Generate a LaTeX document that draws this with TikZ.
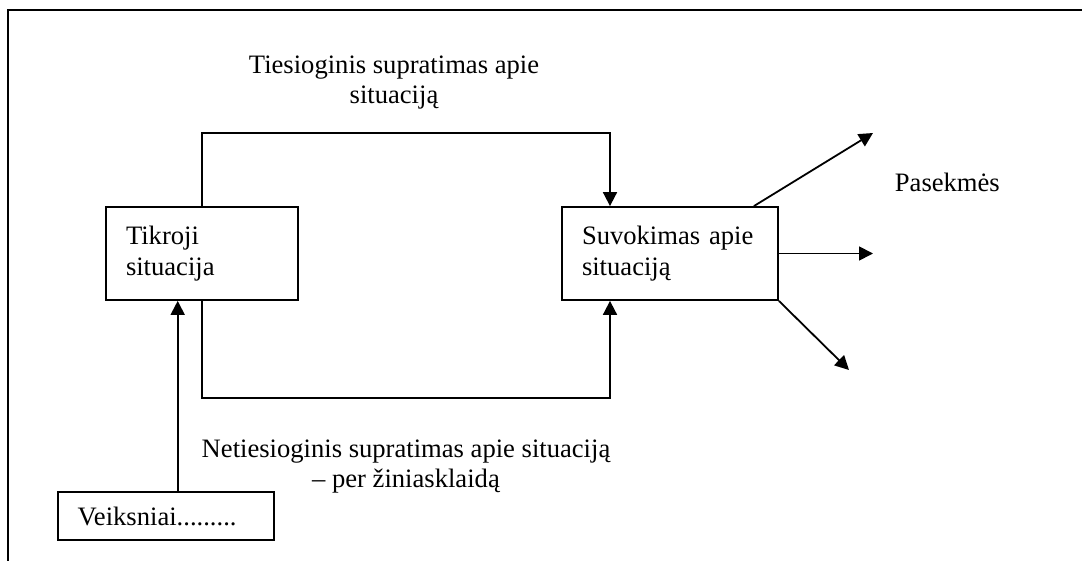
\documentclass[tikz,border=0pt]{standalone}
\usepackage{fontspec}
\setmainfont{Liberation Serif}
\usetikzlibrary{arrows.meta,positioning}

\tikzset{every picture/.style={line width=0.9pt}}
\tikzset{
  sitbox/.style={draw, align=left, inner xsep=10pt, inner ysep=0pt, font=\fontsize{13.3}{15.5}\selectfont},
  lbl/.style={inner sep=0pt, align=center, font=\fontsize{13.3}{15}\selectfont},
  arr/.style={-{Triangle[length=7pt,width=7pt]}}
}

\begin{document}
\begin{tikzpicture}[x=0.5pt,y=0.5pt,yscale=-1,xscale=1]
	\useasboundingbox (0,0) rectangle (1082,561);
	
	%Frame
	\draw [line width=1.1pt] (8,561) -- (8,10) -- (1082,10) ;
	
	%Boxes
	\node (tikroji) [sitbox, text width=76pt, minimum height=46.5pt] at (202,253.5) {Tikroji\\situacija};
	\node (suvokimas) [sitbox, text width=88pt, minimum height=46.5pt] at (670,253.5) {Suvokimas apie\\situacij\k{a}};
	\node (veiksniai) [sitbox, text width=88.3pt, minimum height=24pt] at (166,516) {Veiksniai.........};
	
	%Connectors
	\draw [arr] (tikroji.north) -- ++(0,-73) -| ([xshift=-30pt]suvokimas.north) ;
	\draw [arr] (tikroji.south) -- ++(0,97) -| ([xshift=-30pt]suvokimas.south) ;
	\draw [arr] ([xshift=5.85pt]veiksniai.north) -- ([xshift=-12.15pt]tikroji.south) ;
	
	%Consequences
	\coordinate (pUp) at (873,133) ;
	\coordinate (pMid) at (873,253.5) ;
	\coordinate (pLow) at (849,370) ;
	\draw [arr] ([xshift=-12.5pt]suvokimas.north east) -- (pUp) ;
	\draw [arr] (suvokimas.east) -- (pMid) ;
	\draw [arr] (suvokimas.south east) -- (pLow) ;
	
	% Text Node
	\node (direct) [lbl] at (394,83) {Tiesioginis supratimas apie\\situacij\k{a}};
	% Text Node
	\node (indirect) [lbl] at (406,467) {Netiesioginis supratimas apie situacij\k{a}\\-- per \v{z}iniasklaid\k{a}};
	% Text Node
	\node (pasekmes) [lbl, anchor=base west] at (894,191.7) {Pasekm\.{e}s};
	
\end{tikzpicture}
\end{document}
